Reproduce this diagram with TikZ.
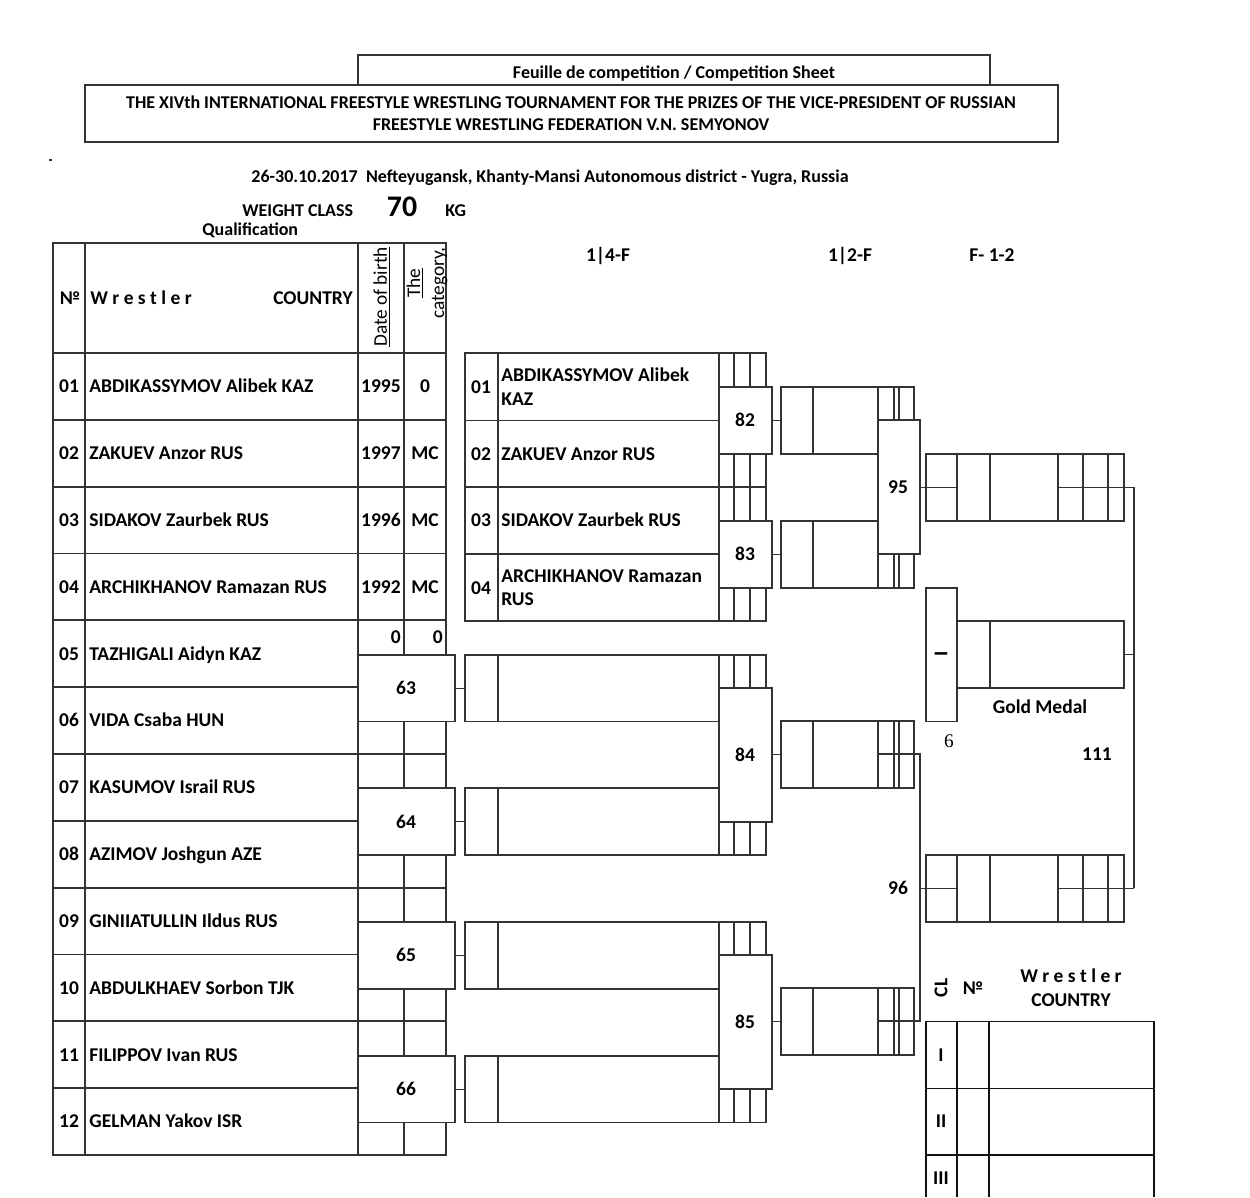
\documentclass[tikz,border=0pt]{standalone}
\usepackage{fontspec}
\setmainfont{Carlito}
\newfontfamily\sixfont{Liberation Serif}
\usepackage{tikz}
\definecolor{Ink}{HTML}{333333}
\definecolor{Hair}{HTML}{111111}
\tikzset{
  frame/.style={draw=Ink,line width=1.1pt},
  rule/.style={draw=Ink,line width=.6pt},
  hair/.style={draw=Hair,line width=.6pt},
  bout/.style={draw=Ink,fill=white,line width=1.1pt},
  entry/.style={font=\fontsize{11.1}{13.6}\selectfont\bfseries,inner sep=0pt,text height=7.15pt,text depth=0pt},
  head/.style={font=\fontsize{10.25}{12}\selectfont\bfseries,inner sep=0pt,text height=6.6pt,text depth=0pt},
  plain/.style={font=\fontsize{11}{13.6}\selectfont,inner sep=0pt}
}

\begin{document}
\begin{tikzpicture}[x=0.02cm,y=-0.02cm]
\useasboundingbox (0,0) rectangle (1250,1197);

% title block
\draw[rule] (358,85) |- (990,55) -- (990,85);
\draw[rule] (85,85) rectangle (1058,142);
\node[head] (sheet) at (674,73) {Feuille de competition / Competition Sheet};
\node[head] (title1) at (571,103) {THE XIVth INTERNATIONAL FREESTYLE WRESTLING TOURNAMENT FOR THE PRIZES OF THE VICE-PRESIDENT OF RUSSIAN};
\node[head] (title2) at (571,125) {FREESTYLE WRESTLING FEDERATION V.N. SEMYONOV};
\fill[Ink] (49,159) rectangle (52,161);
\node[head] (venue) at (550,177) {26-30.10.2017\ \ Nefteyugansk, Khanty-Mansi Autonomous district - Yugra, Russia};
\node[head,anchor=west] (wclass) at (242,211) {WEIGHT CLASS};
\node[font=\fontsize{17}{20}\selectfont\bfseries,inner sep=0pt,text height=11pt,text depth=0pt] (kg70) at (402,207) {70};
\node[head,anchor=west] (kg) at (445,211) {KG};
\node[head,anchor=west] (qual) at (202,230) {Qualification};
\node[entry] (qf) at (608,255) {1|4-F};
\node[entry] (sf) at (850,255) {1|2-F};
\node[entry] (fin) at (992,255) {F- 1-2};

% draw list
\draw[frame] (53,243) rectangle (446,1155);
\foreach \xx in {85,358,404}
  \draw[frame] (\xx,243) -- (\xx,1155);
\foreach \k in {0,...,11}{
  \pgfmathsetmacro\yy{353+66.83*\k}
  \draw[frame] (53,\yy) -- (446,\yy);
}
\node[entry] (hno) at (70,298) {№};
\node[entry,anchor=west] (hwr) at (90,298) {W r e s t l e r};
\node[entry,anchor=east] (hct) at (353,298) {COUNTRY};
\node[plain,rotate=90] (hdob) at (382,297) {\underline{Date of birth}};
\node[plain,rotate=90,align=center] (hcat) at (427,283) {\underline{The}\\category,};

\foreach \n/\wr/\yr/\ct [count=\i] in {01/ABDIKASSYMOV Alibek KAZ/1995/0,
    02/ZAKUEV Anzor RUS/1997/MC, 03/SIDAKOV Zaurbek RUS/1996/MC,
    04/ARCHIKHANOV Ramazan RUS/1992/MC}{
  \pgfmathsetmacro\yy{353+66.83*(\i-0.5)}
  \node[entry] (no\n) at (69,\yy) {\n};
  \node[entry,anchor=west] (wr\n) at (89,\yy) {\wr};
  \node[entry,anchor=east] (yr\n) at (401,\yy) {\yr};
  \node[entry] (ct\n) at (425,\yy) {\ct};
}
\foreach \n/\wr [count=\i from 5] in {05/TAZHIGALI Aidyn KAZ, 06/VIDA Csaba HUN,
    07/KASUMOV Israil RUS, 08/AZIMOV Joshgun AZE, 09/GINIIATULLIN Ildus RUS,
    10/ABDULKHAEV Sorbon TJK, 11/FILIPPOV Ivan RUS, 12/GELMAN Yakov ISR}{
  \pgfmathsetmacro\yy{353+66.83*(\i-0.5)}
  \node[entry] (no\n) at (69,\yy) {\n};
  \node[entry,anchor=west] (wr\n) at (89,\yy) {\wr};
}
\node[entry,anchor=east] (yr05) at (401,637) {0};
\node[entry,anchor=east] (ct05) at (443,637) {0};

% qualification bouts
\foreach \b [count=\m from 0] in {63,64,65,66}{
  \pgfmathsetmacro\yt{654.7+133.66*\m}
  \pgfmathsetmacro\ym{688.1+133.66*\m}
  \draw[bout] (358,\yt) rectangle (455,\yt+66.8);
  \node[entry] (b\b) at (406,\ym) {\b};
  \draw[rule] (455,\ym) -- (465,\ym);
}

% 1|4-F
\draw[frame] (465,353) rectangle (766,621);
\foreach \xx in {498,719,734,750}
  \draw[frame] (\xx,353) -- (\xx,621);
\foreach \yy in {420.5,487.3,554.2}
  \draw[frame] (465,\yy) -- (766,\yy);
\foreach \m in {0,...,3}{
  \pgfmathsetmacro\yt{654.7+133.66*\m}
  \draw[frame] (465,\yt) rectangle (766,\yt+66.8);
  \foreach \xx in {498,719,734,750}
    \draw[frame] (\xx,\yt) -- (\xx,\yt+66.8);
}
\node[entry] (qn01) at (481,387) {01};
\node[entry,anchor=west] (qw01) at (501,375) {ABDIKASSYMOV Alibek};
\node[entry,anchor=west] (qw01b) at (501,399) {KAZ};
\node[entry] (qn02) at (481,454) {02};
\node[entry,anchor=west] (qw02) at (501,454) {ZAKUEV Anzor RUS};
\node[entry] (qn03) at (481,520) {03};
\node[entry,anchor=west] (qw03) at (501,520) {SIDAKOV Zaurbek RUS};
\node[entry] (qn04) at (481,588) {04};
\node[entry,anchor=west] (qw04) at (501,576) {ARCHIKHANOV Ramazan};
\node[entry,anchor=west] (qw04b) at (501,599) {RUS};

\foreach \b/\yt in {82/387,83/521}{
  \draw[bout] (719,\yt) rectangle (772,\yt+66.8);
  \node[entry] (b\b) at (745,\yt+33.4) {\b};
}
\foreach \b/\yt in {84/688.1,85/955.4}{
  \draw[bout] (719,\yt) rectangle (772,\yt+133.66);
  \node[entry] (b\b) at (745,\yt+66.83) {\b};
}

% 1|2-F
\foreach \yt in {387,521,721,988}{
  \draw[rule] (772,\yt+33.4) -- (781,\yt+33.4);
  \draw[frame] (781,\yt) rectangle (914,\yt+66.8);
  \draw[rule] (813,\yt) -- (813,\yt+66.8);
  \foreach \xx in {878,894,899}
    \draw[frame] (\xx,\yt) -- (\xx,\yt+66.8);
}
\draw[bout] (878,420.4) rectangle (920,554.2);
\node[entry] (b95) at (898,487) {95};
\draw[frame] (878,754.4) -| (920,1021.4) -- (878,1021.4);
\node[entry] (b96) at (898,888) {96};

% F- 1-2
\foreach \yt in {454,855}{
  \draw[rule] (920,\yt+33.4) -- (926,\yt+33.4);
  \draw[frame] (926,\yt) rectangle (1124,\yt+66.8);
  \foreach \xx in {957,990,1108}
    \draw[frame] (\xx,\yt) -- (\xx,\yt+66.8);
  \foreach \xx in {1058,1083}
    \draw[rule] (\xx,\yt) -- (\xx,\yt+66.8);
  \draw[rule] (926,\yt+33.4) -- (957,\yt+33.4);
  \draw[rule] (1058,\yt+33.4) -- (1134,\yt+33.4);
}
\draw[rule] (1134,487.4) -- (1134,888.4);
\draw[rule] (1124,654.7) -- (1134,654.7);
\draw[frame] (926,588) rectangle (957,721.5);
\draw[frame] (957,621) rectangle (1124,688);
\draw[frame] (990,621) -- (990,688);
\node[entry,rotate=90] (gI) at (941,654) {I};
\node[entry] (gold) at (1040,707) {Gold Medal};
\node[inner sep=0pt,font=\sixfont\fontsize{11}{13}\selectfont] (six) at (949,741) {6};
\node[entry] (b111) at (1097,754) {111};

% classement
\node[entry,rotate=90] (hcl) at (941,988) {CL};
\node[entry] (hcno) at (973,988) {№};
\node[entry] (hcwr) at (1071,976) {W r e s t l e r};
\node[entry] (hcct) at (1071,1000) {COUNTRY};
\draw[hair] (926,1197) |- (1154,1021.4) -- (1154,1197);
\foreach \xx in {957,989}
  \draw[hair] (\xx,1021.4) -- (\xx,1197);
\foreach \yy in {1088.2,1155}
  \draw[hair] (926,\yy) -- (1154,\yy);
\node[entry] (cl1) at (941,1055) {I};
\node[entry] (cl2) at (941,1121) {II};
\node[entry] (cl3) at (941,1178) {III};
\end{tikzpicture}
\end{document}
